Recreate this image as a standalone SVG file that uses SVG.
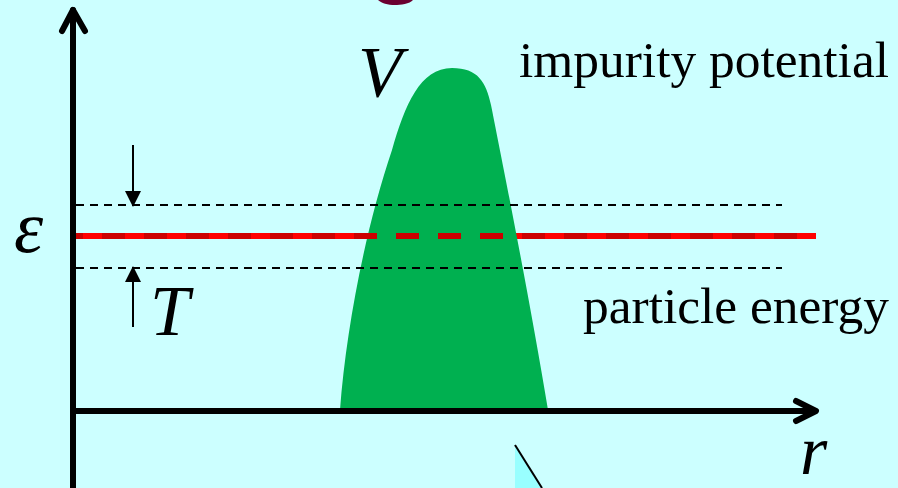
<svg xmlns="http://www.w3.org/2000/svg" width="898" height="488" viewBox="0 0 898 488">
<defs>
<style>
.lbl{font-family:"Liberation Serif","DejaVu Serif",serif;fill:#000}
.it{font-style:italic}
.axis{stroke:#000;stroke-width:6;fill:none;stroke-linecap:round;stroke-linejoin:round}
.dash{stroke:#000;stroke-width:2;stroke-dasharray:8 6;fill:none}
.thin{stroke:#000;stroke-width:2;fill:none}
</style>
<marker id="tri" viewBox="0 0 16 16" refX="15" refY="8" markerWidth="16" markerHeight="16" markerUnits="userSpaceOnUse" orient="auto">
<path d="M0,0 L16,8 L0,16 Z" fill="#000"/>
</marker>
</defs>
<rect width="898" height="488" fill="#CCFFFF"/>
<path d="M378,0 L413,0 C410,4 400,5 395,5 C388,5 381,3 378,0 Z" fill="#6B0030"/>
<g id="energy-solid">
<line x1="72" y1="236" x2="816" y2="236" stroke="#FF0000" stroke-width="6"/>
</g>
<g id="potential">
<path d="M340,410 C346,330 365,230 392,150 C405,105 420,68 452,68 C478,68 486,82 491,105 C500,150 530,300 548,410 Z" fill="#00B050"/>
</g>
<g id="energy-dashed">
<line x1="72" y1="236" x2="816" y2="236" stroke="#CC0000" stroke-width="6" stroke-dasharray="23 19" stroke-dashoffset="12"/>
</g>
<g id="connectors">
<line class="dash" x1="76" y1="205" x2="782" y2="205"/>
<line class="dash" x1="76" y1="268" x2="782" y2="268"/>
<line class="axis" x1="73" y1="488" x2="73" y2="10"/>
<polyline class="axis" points="62,31 73,10 85,31"/>
<line class="axis" x1="73" y1="411" x2="815" y2="411"/>
<polyline class="axis" points="796,401 816,411 796,421"/>
<line class="thin" x1="133" y1="145" x2="133" y2="206" marker-end="url(#tri)"/>
<line class="thin" x1="133" y1="327" x2="133" y2="267" marker-end="url(#tri)"/>
</g>
<g id="corner">
<polygon points="515,445 542,488 515,488" fill="#99FFFF"/>
<line class="thin" x1="515" y1="445" x2="542" y2="488"/>
</g>
<g id="labels">
<text class="lbl it" x="358" y="96" font-size="72">V</text>
<text class="lbl" x="519" y="77" font-size="50" textLength="370" lengthAdjust="spacingAndGlyphs">impurity potential</text>
<text class="lbl" x="583" y="323" font-size="50" textLength="306" lengthAdjust="spacingAndGlyphs">particle energy</text>
<text class="lbl it" x="14" y="252" font-size="74">ε</text>
<text class="lbl it" x="150" y="335" font-size="71">T</text>
<text class="lbl it" x="800" y="474" font-size="70">r</text>
</g>
</svg>
